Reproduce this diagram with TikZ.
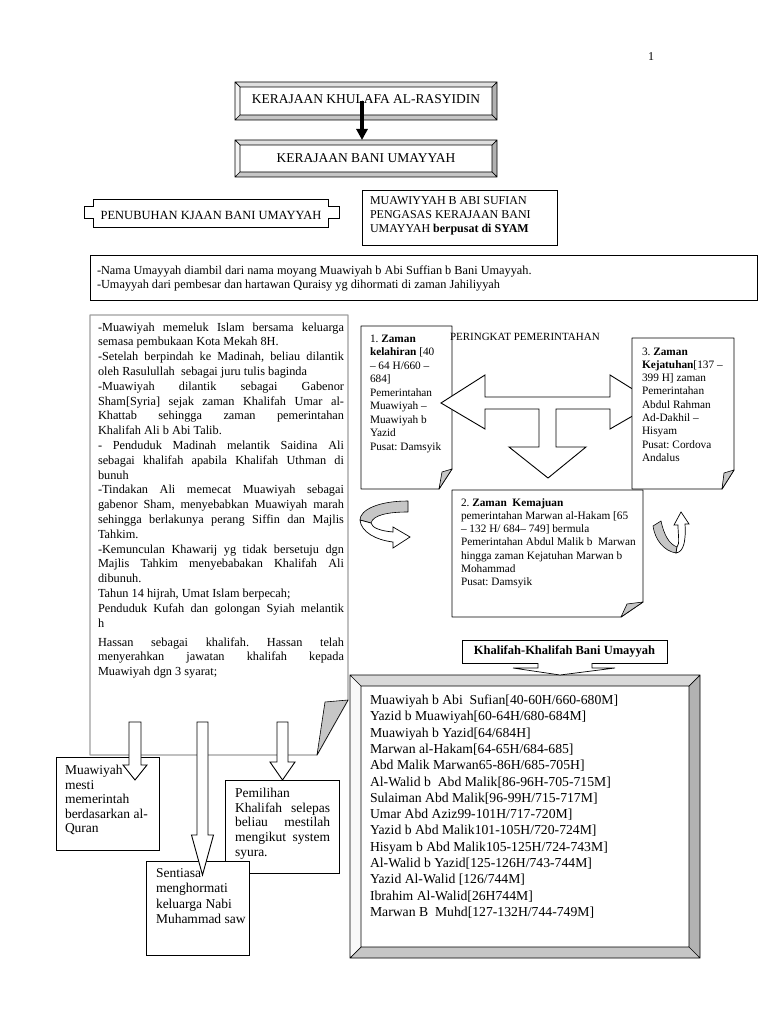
\documentclass[tikz,border=0pt]{standalone}
\usepackage{fontspec}
\setmainfont{Liberation Serif}
\usetikzlibrary{arrows.meta}
\frenchspacing
\newcommand{\fs}[2]{\fontsize{#1}{#2}\selectfont}
\newcommand{\jline}[2]{\makebox[#1][s]{#2}}
\newcommand{\bevelframe}[6]{%
 \coordinate (bA) at (#1.north west);
 \coordinate (bB) at (#1.north east);
 \coordinate (bC) at (#1.south east);
 \coordinate (bD) at (#1.south west);
 \coordinate (ba) at ([shift={(#2,#2)}]#1.north west);
 \coordinate (bb) at ([shift={(-#2,#2)}]#1.north east);
 \coordinate (bc) at ([shift={(-#2,-#2)}]#1.south east);
 \coordinate (bd) at ([shift={(#2,-#2)}]#1.south west);
 \fill[#3] (bA) -- (bB) -- (bb) -- (ba) -- cycle;
 \fill[#4] (bB) -- (bC) -- (bc) -- (bb) -- cycle;
 \fill[#5] (bC) -- (bD) -- (bd) -- (bc) -- cycle;
 \fill[#6] (bD) -- (bA) -- (ba) -- (bd) -- cycle;
 \draw[frameline] (bA) rectangle (bC) (ba) rectangle (bc) (bA) -- (ba) (bB) -- (bb) (bC) -- (bc) (bD) -- (bd);
}
\newcommand{\dnarrow}[6]{%
 \draw[blockarrow] (#1-#5,#2) -- (#1+#5,#2) -- (#1+#5,#3) -- (#1+#6,#3) -- (#1,#4) -- (#1-#6,#3) -- (#1-#5,#3) -- cycle;}
\begin{document}
\begin{tikzpicture}[x=1pt,y=-1pt,
  txt/.style={inner sep=0pt, outer sep=0pt, anchor=base west, align=left},
  frameline/.style={draw=black, line width=0.7pt},
  boxline/.style={draw=black, line width=0.9pt, fill=white, inner sep=0pt, outer sep=0pt},
  bigline/.style={draw=gray!75, line width=1.2pt, fill=white, line join=round},
  flap/.style={fill=gray!45, draw=black, line width=0.6pt, line join=round},
  scroll/.style={draw=black, line width=0.9pt, fill=white, line join=round},
  blockarrow/.style={draw=black, line width=0.9pt, fill=white, line join=miter},
  framenode/.style={inner sep=0pt, outer sep=0pt, fill=white},
]
\useasboundingbox (0,0) rectangle (768,1024);
\fill[white] (0,0) rectangle (768,1024);

\node[font=\fs{12}{14}] (pg) at (651,57) {1};

% title boxes
\node[framenode, minimum width=262pt, minimum height=38pt] (k1) at (366,101) {};
\bevelframe{k1}{5}{gray!25}{gray!60}{gray!45}{gray!8}
\node[font=\fs{13.5}{15}] (k1t) at (366,99) {KERAJAAN KHULAFA AL-RASYIDIN};
\node[framenode, minimum width=262pt, minimum height=37pt] (k2) at (366,158.5) {};
\bevelframe{k2}{5}{gray!25}{gray!60}{gray!45}{gray!8}
\node[font=\fs{13.5}{15}] (k2t) at (366,158) {KERAJAAN BANI UMAYYAH};
\draw[line width=3.5pt, -{Triangle[width=11pt,length=11pt]}] ([xshift=-4pt]k1.center) -- ([xshift=-4pt]k2.north);

% plaque
\draw[frameline, line width=0.9pt] (93,199) -- (328,199) -- (328,206) -- (339,206) -- (339,218) -- (328,218) -- (328,227) -- (93,227) -- (93,218) -- (84,218) -- (84,206) -- (93,206) -- cycle;
\node[font=\fs{12.5}{14}] (pen) at (211,215.5) {PENUBUHAN KJAAN BANI UMAYYAH};

% founder box
\node[boxline, minimum width=195pt, minimum height=55pt, anchor=north west] (mbox) at (362,190) {};
\node[txt, font=\fs{12}{14}] (mtxt) at (370,232.5) {MUAWIYYAH B ABI SUFIAN\\PENGASAS KERAJAAN BANI\\UMAYYAH \textbf{berpusat di SYAM}};

% nama box
\node[boxline, minimum width=667pt, minimum height=45pt, anchor=north west] (nbox) at (90,255) {};
\node[txt, font=\fs{12.3}{14}] (ntxt) at (97,288.5) {-Nama Umayyah diambil dari nama moyang Muawiyah b Abi Suffian b Bani Umayyah.\\-Umayyah dari pembesar dan hartawan Quraisy yg dihormati di zaman Jahiliyyah};

% big left box
\draw[bigline] (90,315) -- (348,315) -- (348,700) -- (317,755) -- (90,755) -- cycle;
\draw[flap] (348,700) -- (325,702) -- (317,755) -- cycle;
\node[txt, font=\fs{12.3}{14.8}] (bt) at (98,675.6) {%
\jline{246pt}{-Muawiyah memeluk Islam bersama keluarga}\\
semasa pembukaan Kota Mekah 8H.\\
\jline{246pt}{-Setelah berpindah ke Madinah, beliau dilantik}\\
oleh Rasulullah\ \ sebagai juru tulis baginda\\
\jline{246pt}{-Muawiyah dilantik sebagai Gabenor}\\
\jline{246pt}{Sham[Syria] sejak zaman Khalifah Umar al-}\\
\jline{246pt}{Khattab sehingga zaman pemerintahan}\\
Khalifah Ali b Abi Talib.\\
\jline{246pt}{- Penduduk Madinah melantik Saidina Ali}\\
\jline{246pt}{sebagai khalifah apabila Khalifah Uthman di}\\
bunuh\\
\jline{246pt}{-Tindakan Ali memecat Muawiyah sebagai}\\
\jline{246pt}{gabenor Sham, menyebabkan Muawiyah marah}\\
\jline{246pt}{sehingga berlakunya perang Siffin dan Majlis}\\
Tahkim.\\
\jline{246pt}{-Kemunculan Khawarij yg tidak bersetuju dgn}\\
\jline{246pt}{Majlis Tahkim menyebabakan Khalifah Ali}\\
dibunuh.\\
Tahun 14 hijrah, Umat Islam berpecah;\\
\jline{246pt}{Penduduk Kufah dan golongan Syiah melantik}\\
h\\[4.2pt]
\jline{246pt}{Hassan sebagai khalifah. Hassan telah}\\
\jline{246pt}{menyerahkan jawatan khalifah kepada}\\
Muawiyah dgn 3 syarat;};

% scroll 1
\draw[scroll] (361,326) -- (452,326) -- (452,469) -- (439,489) -- (361,489) -- cycle;
\draw[flap] (452,469) -- (442,472) -- (439,489) -- cycle;
\node[txt, font=\fs{11.3}{13.5}] (s1) at (370,450) {1. \textbf{Zaman}\\\textbf{kelahiran} [40\\– 64 H/660 –\\684]\\Pemerintahan\\Muawiyah –\\Muawiyah b\\Yazid\\Pusat: Damsyik};

% T arrow
\draw[blockarrow] (441,403) -- (485,375) -- (485,397) -- (610,397) -- (610,375) -- (655,403) -- (610,429) -- (610,409) -- (556,409) -- (556,447) -- (586,447) -- (548,478) -- (509,447) -- (539,447) -- (539,409) -- (485,409) -- (485,429) -- cycle;

% scroll 3
\draw[scroll] (632,338) -- (734,338) -- (734,470) -- (722,489) -- (632,489) -- cycle;
\draw[flap] (734,470) -- (724,473) -- (722,489) -- cycle;
\node[txt, font=\fs{11.3}{13.3}] (s3) at (642,461.4) {3. \textbf{Zaman}\\\textbf{Kejatuhan}[137 –\\399 H] zaman\\Pemerintahan\\Abdul Rahman\\Ad-Dakhil –\\Hisyam\\Pusat: Cordova\\Andalus};

% scroll 2
\draw[scroll] (452,490) -- (643,490) -- (643,602) -- (621,617) -- (452,617) -- cycle;
\draw[flap] (643,602) -- (627,604) -- (621,617) -- cycle;
\node[txt, font=\fs{11.3}{13.3}] (s2) at (461,585.8) {2. \textbf{Zaman\ \ Kemajuan}\\pemerintahan Marwan al-Hakam [65\\– 132 H/ 684– 749] bermula\\Pemerintahan Abdul Malik b\ \ Marwan\\hingga zaman Kejatuhan Marwan b\\Mohammad\\Pusat: Damsyik};

\node[txt, font=\fs{11}{13}] (per) at (450,340.5) {PERINGKAT PEMERINTAHAN};

% curved arrows
\draw[flap] (408,501) .. controls (378,501) and (360,510) .. (360,520) -- (371,523) .. controls (373,515) and (388,512) .. (408,512) -- cycle;
\draw[blockarrow, line width=0.7pt] (360,520) .. controls (361,532) and (376,540) .. (393,542) -- (393,548) -- (410,537) -- (393,527) -- (393,532) .. controls (381,531) and (372,528) .. (371,523) -- cycle;
\draw[flap] (653,526) -- (661,521) .. controls (664,535) and (669,544) .. (677,547) -- (676,553) .. controls (664,551) and (655,540) .. (653,526) -- cycle;
\draw[blockarrow, line width=0.7pt] (677,547) .. controls (680,544) and (678,535) .. (678,525) -- (674,525) -- (681,512) -- (689,524) -- (685,524) .. controls (686,540) and (684,552) .. (676,553) -- cycle;

% khalifah list
\node[draw=black, line width=1pt, fill=white, minimum width=205pt, minimum height=23pt, inner sep=0pt, outer sep=0pt, font=\fs{12.5}{14}\bfseries] (kh) at (564.5,651.5) {Khalifah-Khalifah Bani Umayyah};
\node[framenode, minimum width=350pt, minimum height=283pt] (lb) at (525,816.5) {};
\bevelframe{lb}{11}{gray!30}{gray!60}{gray!45}{gray!5}
\draw[blockarrow, line width=0.7pt] ([shift={(-26.5,0)}]kh.south) -- ++(0,5) -- ++(-25,0) -- ([shift={(-4.5,12)}]kh.south) -- ([shift={(50.5,5)}]kh.south) -- ++(-23,0) -- ([shift={(27.5,0)}]kh.south);
\node[txt, font=\fs{13.7}{16.3}] (lt) at (370,916.4) {Muawiyah b Abi\ \ Sufian[40-60H/660-680M]\\
Yazid b Muawiyah[60-64H/680-684M]\\
Muawiyah b Yazid[64/684H]\\
Marwan al-Hakam[64-65H/684-685]\\
Abd Malik Marwan65-86H/685-705H]\\
Al-Walid b\ \ Abd Malik[86-96H-705-715M]\\
Sulaiman Abd Malik[96-99H/715-717M]\\
Umar Abd Aziz99-101H/717-720M]\\
Yazid b Abd Malik101-105H/720-724M]\\
Hisyam b Abd Malik105-125H/724-743M]\\
Al-Walid b Yazid[125-126H/743-744M]\\
Yazid Al-Walid [126/744M]\\
Ibrahim Al-Walid[26H744M]\\
Marwan B\ \ Muhd[127-132H/744-749M]};

% bottom boxes
\node[boxline, minimum width=103pt, minimum height=93pt, anchor=north west] (bm) at (56,757) {};
\node[txt, font=\fs{13.5}{14.5}] (bmt) at (65,832.5) {Muawiyah\\mesti\\memerintah\\berdasarkan al-\\Quran};
\node[boxline, minimum width=114pt, minimum height=93pt, anchor=north west] (bp) at (225,780) {};
\node[txt, font=\fs{13.5}{14.7}] (bpt) at (235,856.3) {Pemilihan\\\jline{95pt}{Khalifah selepas}\\\jline{95pt}{beliau mestilah}\\\jline{95pt}{mengikut system}\\syura.};
\node[boxline, minimum width=103pt, minimum height=94pt, anchor=north west] (bs) at (146,861) {};
\node[txt, font=\fs{13.5}{15.3}] (bst) at (156,923.4) {Sentiasa\\menghormati\\keluarga Nabi\\Muhammad saw};

% down arrows
\dnarrow{135}{722}{765}{780}{6}{12}
\dnarrow{202.5}{722}{835}{875}{5.5}{11}
\dnarrow{282.5}{722}{762}{780}{5.5}{12.5}
\end{tikzpicture}
\end{document}
